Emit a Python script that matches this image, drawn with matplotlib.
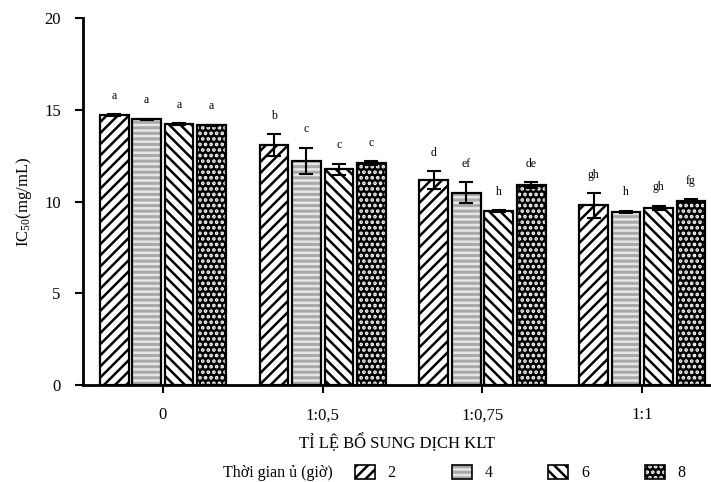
import matplotlib
matplotlib.use("Agg")
import matplotlib.pyplot as plt
import numpy as np
from matplotlib.patches import Patch

plt.rcParams["font.family"] = ["Liberation Serif", "DejaVu Serif"]
plt.rcParams["mathtext.fontset"] = "custom"
plt.rcParams["mathtext.rm"] = "Liberation Serif"
plt.rcParams["mathtext.it"] = "Liberation Serif:italic"
plt.rcParams["hatch.linewidth"] = 1.8

# số liệu
ratios = ["0", "1:0,5", "1:0,75", "1:1"]
times = ["2", "4", "6", "8"]
ic50 = {
    "2": [14.71, 13.06, 11.17, 9.79],
    "4": [14.48, 12.22, 10.48, 9.43],
    "6": [14.22, 11.77, 9.48, 9.66],
    "8": [14.15, 12.08, 10.90, 10.04],
}
err = {
    "2": [0.04, 0.60, 0.50, 0.67],
    "4": [0.04, 0.72, 0.56, 0.07],
    "6": [0.04, 0.30, 0.06, 0.12],
    "8": [0.04, 0.10, 0.14, 0.07],
}
letters = {
    "2": ["a", "b", "d", "gh"],
    "4": ["a", "c", "ef", "h"],
    "6": ["a", "c", "h", "gh"],
    "8": ["a", "c", "de", "fg"],
}

# kiểu tô: (màu nền, màu hatch, hatch)
styles = {
    "2": ("white", "black", "///"),
    "4": ("#a9a9a9", "#e6e6e6", "---"),
    "6": ("white", "black", "\\\\\\"),
    "8": ("black", "white", "..."),
}

fig = plt.figure(figsize=(7.11, 4.82), dpi=100)
ax = fig.add_axes([0.1167, 0.2012, 0.8833, 0.7615])

x = np.arange(len(ratios))
step = 0.203
w = 0.18
handles = []
for i, t in enumerate(times):
    pos = x + (i - 1.5) * step
    fc, hc, h = styles[t]
    ax.bar(pos, ic50[t], w, color=fc, edgecolor=hc, hatch=h, linewidth=0, zorder=2)
    ax.bar(pos, ic50[t], w, fill=False, edgecolor="black", linewidth=1.6, zorder=3)
    ax.errorbar(pos, ic50[t], yerr=err[t], fmt="none", ecolor="black",
                elinewidth=1.5, capsize=5, capthick=1.5, zorder=4)
    for px, v, e, lab in zip(pos, ic50[t], err[t], letters[t]):
        ax.annotate(lab, (px, v + e), xytext=(0, 11), textcoords="offset points",
                    ha="center", va="baseline", fontsize=8.5)
    handles.append((Patch(facecolor=fc, edgecolor=hc, hatch=h, linewidth=0),
                    Patch(fill=False, edgecolor="black", linewidth=1.2)))

ax.set_xlim(-0.5, 3.43)
ax.set_ylim(0, 20)
ax.set_yticks([0, 5, 10, 15, 20])
ax.set_xticks(x)
ax.set_xticklabels(ratios)
ax.tick_params(axis="both", labelsize=12, width=1.5, length=6, direction="out")
ax.tick_params(axis="y", pad=10)
ax.tick_params(axis="x", pad=10)
for s in ["top", "right"]:
    ax.spines[s].set_visible(False)
for s in ["left", "bottom"]:
    ax.spines[s].set_linewidth(2)

ax.set_xlabel("TỈ LỆ BỔ SUNG DỊCH KLT", fontsize=12, labelpad=7)
ax.set_ylabel("IC$_{50}$(mg/mL)", fontsize=12, labelpad=7)

fig.text(223 / 711, 1 - 473 / 482, "Thời gian ủ (giờ)", fontsize=11.5,
         ha="left", va="center")
fig.legend(handles, times, ncol=4, loc="center left",
           bbox_to_anchor=(355 / 711, 1 - 473 / 482), frameon=False,
           borderpad=0, borderaxespad=0, handlelength=1.25, handleheight=1.0,
           handletextpad=0.8, columnspacing=3.5, fontsize=11.5)

fig.savefig("out.png", dpi=100)
